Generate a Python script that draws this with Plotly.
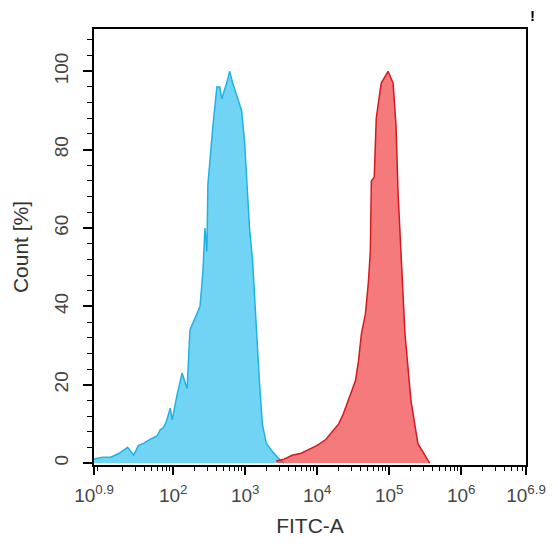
import plotly.graph_objects as go

# blue (control) histogram: FITC-A intensity vs count %
blue_x = [7.9, 10.5, 13.6, 17.8, 23.3, 28.2, 33.0, 38.7, 47.0, 60.3, 66.0, 72.9, 80.0, 91.0, 97.0,
          112, 133, 156, 171, 201, 236, 259, 276, 294, 303, 356, 404, 444, 472, 553, 608,
          670, 785, 891, 980, 1148, 1262, 1432, 1574, 1730, 1963, 2377, 2965, 3475]
blue_y = [1.0, 1.5, 1.5, 2.5, 4.0, 2.0, 4.5, 5.0, 6.0, 7.0, 8.5, 9.0, 10.5, 14.0, 11.0,
          17.0, 23.0, 19.0, 34.0, 37.0, 40.0, 49.0, 60.0, 54.0, 71.0, 86.0, 96.0, 96.0, 93.0, 97.0, 100.0,
          97.0, 93.0, 90.0, 82.0, 60.0, 52.0, 33.0, 21.0, 10.0, 5.0, 3.0, 1.0, 0.0]

# red (stained) histogram
red_x = [2698, 3475, 4477, 6000, 7674, 10000, 13152, 16000, 19861, 23000, 27227, 33963, 37411,
         41115, 46666, 51286, 54702, 56494, 62000, 66069, 77446, 96605, 113240, 124451,
         132739, 145881, 165577, 200447, 250035, 311889, 365595]
red_y = [0.5, 1.0, 2.0, 2.5, 3.5, 4.5, 6.0, 8.0, 10.0, 12.5, 16.0, 21.0, 26.0,
         33.0, 38.0, 46.0, 54.0, 72.0, 73.0, 88.0, 97.0, 100.0, 97.0, 86.0,
         69.0, 53.0, 33.0, 16.0, 5.0, 2.0, 0.0]

x_tickvals = [10 ** 0.9, 1e2, 1e3, 1e4, 1e5, 1e6, 10 ** 6.9]
x_ticktext = ["10<sup>0.9</sup>", "10<sup>2</sup>", "10<sup>3</sup>", "10<sup>4</sup>",
              "10<sup>5</sup>", "10<sup>6</sup>", "10<sup>6.9</sup>"]
y_tickvals = [0, 20, 40, 60, 80, 100]

minor_x = [m * 10 ** d for d in range(0, 7) for m in range(2, 10) if 10 ** 0.9 < m * 10 ** d < 10 ** 6.9]

font = "Liberation Sans, Arial, sans-serif"

fig = go.Figure()
fig.add_trace(go.Scatter(
    x=blue_x, y=blue_y, mode="lines", fill="tozeroy",
    fillcolor="rgba(60,196,240,0.72)", line=dict(color="#1fb3e3", width=1.5),
    name="control", showlegend=False,
))
fig.add_trace(go.Scatter(
    x=red_x, y=red_y, mode="lines", fill="tozeroy",
    fillcolor="rgba(240,70,72,0.72)", line=dict(color="#d41a1f", width=1.5),
    name="stained", showlegend=False,
))

fig.update_xaxes(
    type="log", range=[0.9, 6.9], tickvals=x_tickvals, ticktext=x_ticktext,
    ticks="outside", ticklen=8, tickwidth=1.5, tickcolor="black",
    minor=dict(ticks="outside", ticklen=4, tickwidth=1, tickcolor="black", tickvals=minor_x),
    showline=True, linecolor="black", linewidth=1.5, mirror=True, showgrid=False, zeroline=False,
    title=dict(text="FITC-A", font=dict(size=21, color="#333"), standoff=14),
    tickfont=dict(size=19, color="#444"), ticklabelstandoff=4,
)
fig.update_yaxes(
    range=[-0.5, 110.8], tickvals=y_tickvals, tickangle=-90,
    ticks="outside", ticklen=9, tickwidth=1.5, tickcolor="black",
    minor=dict(ticks="outside", ticklen=5, tickwidth=1, tickcolor="black", dtick=4),
    showline=True, linecolor="black", linewidth=1.5, mirror=True, showgrid=False, zeroline=False,
    title=dict(text="Count [%]", font=dict(size=21, color="#333"), standoff=16),
    tickfont=dict(size=19, color="#444"), ticklabelstandoff=8,
)

# small "!" mark above the top-right corner
fig.add_annotation(text="<b>!</b>", x=1.014, y=1.032, xref="paper", yref="paper",
                   xanchor="center", yanchor="middle", showarrow=False,
                   font=dict(size=15, color="black"))

fig.update_layout(
    width=550, height=548,
    margin=dict(l=85, r=29, t=21, b=91),
    plot_bgcolor="white", paper_bgcolor="white",
    font=dict(family=font),
)

fig.write_html("out.html")
